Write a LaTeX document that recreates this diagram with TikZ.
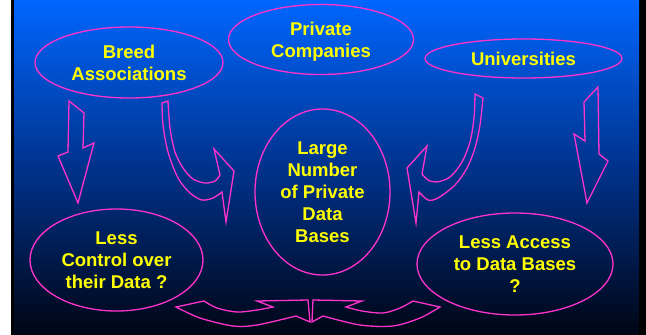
\documentclass[tikz,border=0pt]{standalone}
\usepackage{fontspec}
\setmainfont{Liberation Sans}
\usetikzlibrary{shapes.geometric}
\definecolor{pinkc}{RGB}{255,51,204}
\definecolor{yel}{RGB}{255,255,0}
\definecolor{bgtop}{RGB}{0,102,255}
\definecolor{bgmid}{RGB}{0,50,140}
\definecolor{bgbot}{RGB}{0,5,20}
\begin{document}
\begin{tikzpicture}[x=1pt,y=-1pt,
  bubble/.style={ellipse, draw=pinkc, line width=1.3pt, inner sep=0pt, text=yel, align=center,
    font=\bfseries\fontsize{18.5}{22}\selectfont},
  blockarrow/.style={draw=pinkc, line width=1.3pt, line join=miter}]
\useasboundingbox (0,0) rectangle (646,335);
\fill[white] (0,0) rectangle (646,335);
\fill[black] (11,0) rectangle (646,335);
\shade[top color=bgtop, bottom color=bgbot, middle color=bgmid] (14,0) rectangle (639,335);

% ellipses
\node[bubble, minimum width=188pt, minimum height=71pt] (breed) at (129,62.5) {Breed\\Associations};
\node[bubble, minimum width=185pt, minimum height=70pt, text depth=0pt] (priv) at (321,39.5) {Private\\Companies};
\node[bubble, minimum width=197pt, minimum height=39pt] (univ) at (523.5,58.5) {Universities};
\node[bubble, minimum width=135pt, minimum height=166pt] (large) at (322.5,192) {Large\\Number\\of Private\\Data\\Bases};
\node[bubble, minimum width=173pt, minimum height=102pt] (control) at (116.5,260) {Less\\Control over\\their Data ?};
\node[bubble, minimum width=196pt, minimum height=102pt] (access) at (515,264) {Less Access\\to Data Bases\\?};

% straight block arrows
\draw[blockarrow] (69,101) -- (84,113) -- (83,148) -- (94,143) -- (78,203) -- (58,156) -- (68,152) -- cycle;
\draw[blockarrow] (598,87) -- (584,102) -- (585,141) -- (574,134) -- (587,203) -- (608,161) -- (599,154) -- cycle;

% curved block arrows towards the central ellipse
\draw[blockarrow] (162,103) -- (168,101)
  -- plot[smooth] coordinates {(168,101) (170,128) (175,152) (183,168) (193,179) (205,183) (215,181) (220,175)}
  -- (214,149) -- (234,171) -- (226,222) -- (222,192)
  -- plot[smooth] coordinates {(222,192) (213,198) (202,200) (190,193) (178,178) (168,152) (163,125) (162,103)}
  -- cycle;
\draw[blockarrow] (475,94) -- (483,98)
  -- plot[smooth] coordinates {(483,98) (480,125) (475,148) (467,168) (455,185) (438,198) (428,200) (419,192)}
  -- (416,223) -- (407,168) -- (427,146) -- (422,174)
  -- plot[smooth] coordinates {(422,174) (428,180) (437,182) (450,177) (462,162) (470,142) (474,118) (475,94)}
  -- cycle;

% bottom curved block arrows
\draw[blockarrow] (176,307) -- (204,301)
  -- plot[smooth] coordinates {(204,301) (217,308) (237,312) (257,310) (273,307)}
  -- (257,301) -- (308,300) -- (310,322) -- (296,316)
  -- plot[smooth] coordinates {(296,316) (257,325) (233,326) (200,318) (176,307)}
  -- cycle;
\draw[blockarrow] (440,307) -- (413,301)
  -- plot[smooth] coordinates {(413,301) (400,308) (383,313) (362,311) (346,307)}
  -- (362,301) -- (313,300) -- (312,322) -- (323,316)
  -- plot[smooth] coordinates {(323,316) (360,325) (393,326) (420,318) (440,307)}
  -- cycle;
\end{tikzpicture}
\end{document}
